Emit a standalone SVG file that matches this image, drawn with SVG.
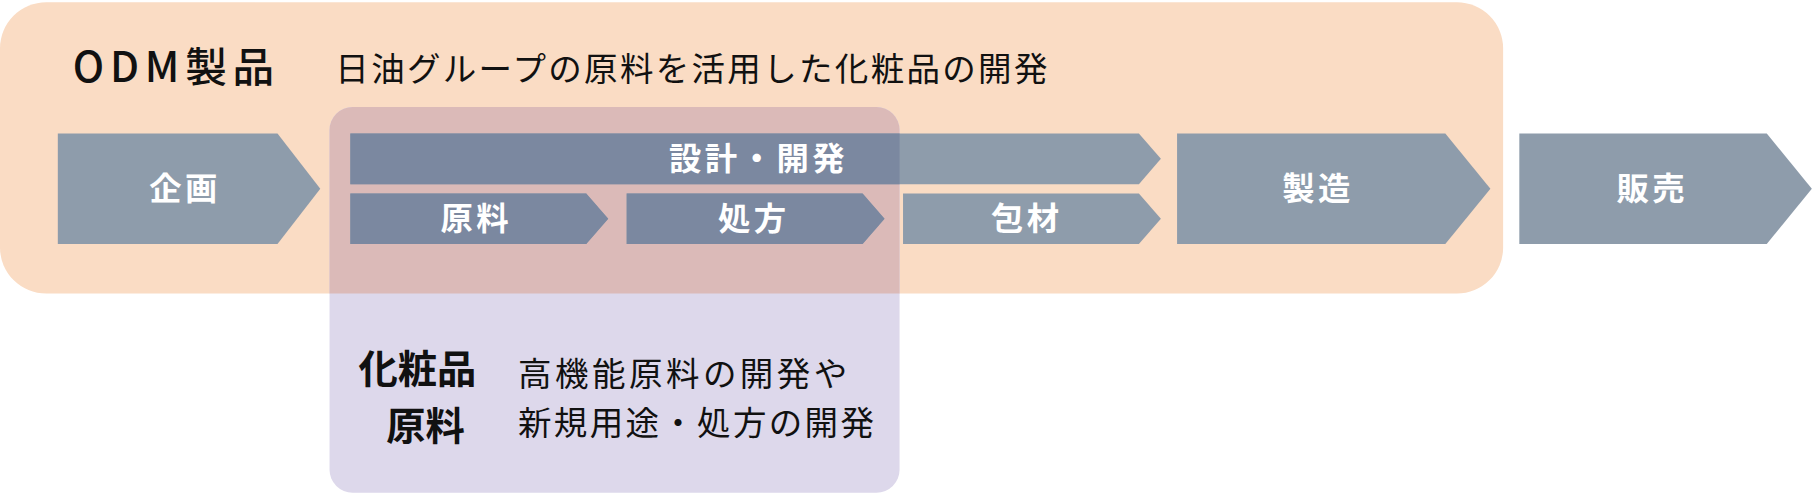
<svg xmlns="http://www.w3.org/2000/svg" width="1813" height="495" viewBox="0 0 1813 495">
<style>
.a{fill:#8e9cab}
.d{fill:#7b88a0}
.w{fill:#fff;font-family:"Noto Sans CJK JP",sans-serif;font-weight:bold;font-size:28px;text-anchor:middle;letter-spacing:3px}
.k{fill:#111;font-family:"Noto Sans CJK JP",sans-serif}
</style>
<defs>
<clipPath id="ov"><rect x="285" y="93" width="493" height="335" rx="20"/></clipPath>
<g id="arrows">
<polygon points="50,116 240,116 277,164 240,212 50,212"/>
<polygon points="303,116 985,116 1004,138 985,160 303,160"/>
<polygon points="303,168 507,168 526,190 507,212 303,212"/>
<polygon points="542,168 746,168 765,190 746,212 542,212"/>
<polygon points="781,168 985,168 1004,190 985,212 781,212"/>
<polygon points="1018,116 1250,116 1289,164 1250,212 1018,212"/>
<polygon points="1314,116 1528,116 1567,164 1528,212 1314,212"/>
</g>
</defs>
<g transform="scale(1.15625,1.1512)">
<g id="odm"><rect x="0" y="2" width="1300" height="253" rx="40" fill="#fadcc4"/></g>
<g id="raw"><rect x="285" y="93" width="493" height="335" rx="20" fill="#ddd8eb"/>
<path d="M285,255 V113 a20,20 0 0 1 20,-20 H758 a20,20 0 0 1 20,20 V255 Z" fill="#dbbab8"/></g>
<g id="connectors">
<use href="#arrows" class="a"/>
<g clip-path="url(#ov)"><use href="#arrows" class="d"/></g>
</g>
<text class="k" x="63" y="71" font-size="36" font-weight="500" letter-spacing="5">ODM製品</text>
<text class="k" x="290" y="70" font-size="29" letter-spacing="2">日油グループの原料を活用した化粧品の開発</text>
<g id="n1"><text class="w" x="160" y="174">企画</text></g>
<g id="n2"><text class="w" x="656" y="148">設計・開発</text></g>
<g id="n3"><text class="w" x="412" y="200">原料</text></g>
<g id="n4"><text class="w" x="652" y="200">処方</text></g>
<g id="n5"><text class="w" x="888" y="200">包材</text></g>
<g id="n6"><text class="w" x="1140" y="174">製造</text></g>
<g id="n7"><text class="w" x="1429" y="174">販売</text></g>
<text class="k" x="361" y="333" font-size="34" font-weight="bold" text-anchor="middle">化粧品</text>
<text class="k" x="368" y="382" font-size="34" font-weight="bold" text-anchor="middle">原料</text>
<text class="k" x="448" y="335" font-size="29" letter-spacing="3">高機能原料の開発や</text>
<text class="k" x="448" y="378" font-size="29" letter-spacing="2">新規用途・処方の開発</text>
</g>
</svg>
